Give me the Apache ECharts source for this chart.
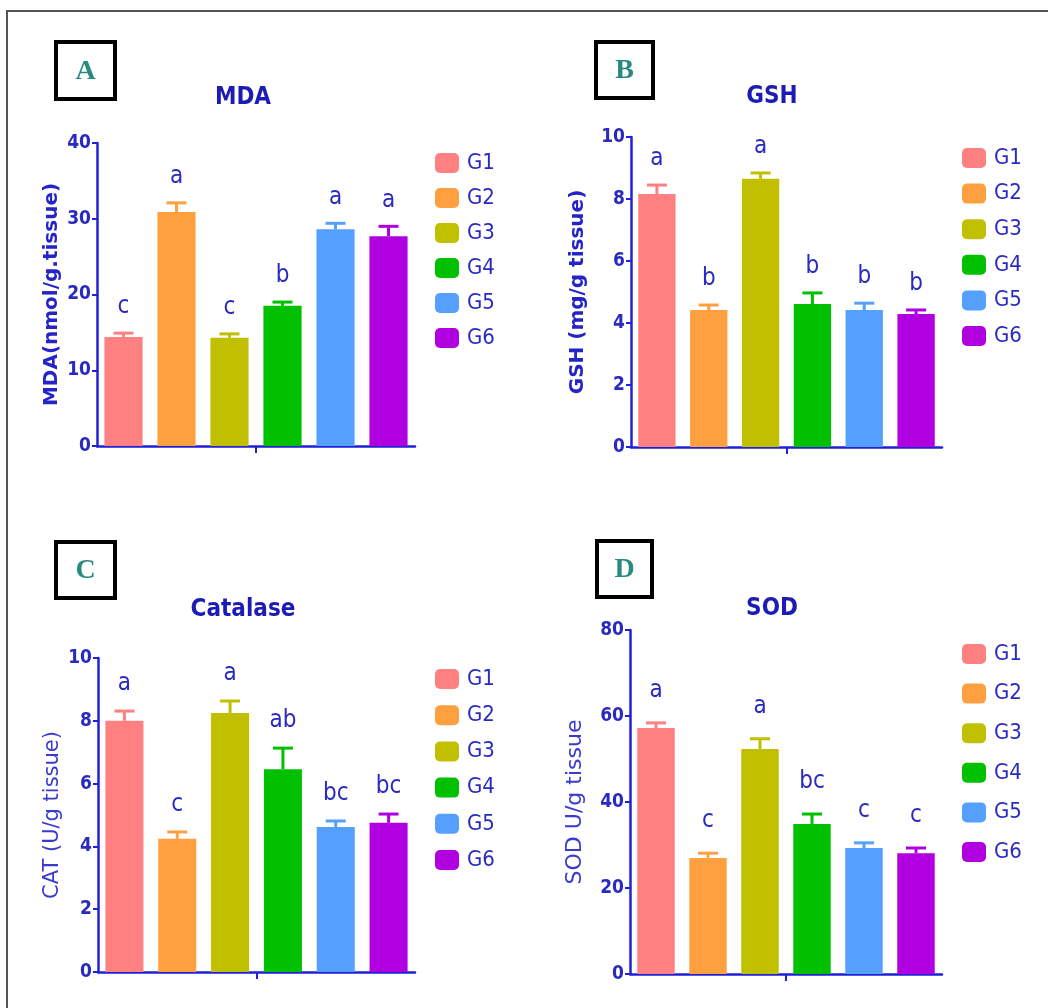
<!DOCTYPE html>
<html>
<head>
<meta charset="utf-8">
<script src="https://cdn.jsdelivr.net/npm/echarts@6/dist/echarts.min.js"></script>
<style>
html,body{margin:0;padding:0;background:#fff;}
#chart{width:1048px;height:1008px;}
</style>
</head>
<body>
<div id="chart"></div>
<script>
// ---------- data ----------
var groups = ['G1', 'G2', 'G3', 'G4', 'G5', 'G6'];
var colors = ['#ff8080', '#ffa040', '#c0c000', '#00c000', '#55a0ff', '#b000e0'];

var mdaValues = [14.4, 30.9, 14.3, 18.5, 28.6, 27.7];
var mdaErrors = [0.5, 1.2, 0.5, 0.5, 0.8, 1.3];
var mdaLetters = ['c', 'a', 'c', 'b', 'a', 'a'];

var gshValues = [8.16, 4.42, 8.65, 4.61, 4.42, 4.29];
var gshErrors = [0.29, 0.16, 0.19, 0.36, 0.22, 0.13];
var gshLetters = ['a', 'b', 'a', 'b', 'b', 'b'];

var catValues = [8.0, 4.24, 8.25, 6.46, 4.62, 4.75];
var catErrors = [0.31, 0.22, 0.38, 0.67, 0.19, 0.28];
var catLetters = ['a', 'c', 'a', 'ab', 'bc', 'bc'];

var sodValues = [57.2, 27.0, 52.3, 34.9, 29.3, 28.1];
var sodErrors = [1.2, 1.1, 2.4, 2.3, 1.2, 1.2];
var sodLetters = ['a', 'c', 'a', 'bc', 'c', 'c'];

var yMax = [40, 10, 10, 80];
var yInterval = [10, 2, 2, 20];
var titles = ['MDA', 'GSH', 'Catalase', 'SOD'];
var panelLetters = ['A', 'B', 'C', 'D'];
var yNames = ['MDA(nmol/g.tissue)', 'GSH (mg/g tissue)', 'CAT (U/g tissue)', 'SOD U/g tissue'];

// ---------- layout / style ----------
var NARROW = "'Liberation Sans Narrow','Arial Narrow','DejaVu Sans Condensed',sans-serif";
var BLUE = '#2020d8';
var TXT = '#2a2ac0';

var panels = [
  {values: mdaValues, errors: mdaErrors, letters: mdaLetters,
   grid: {left: 97, top: 143, width: 318, height: 303},
   legend: {left: 435, top: 152, itemGap: 13},
   title: [243, 98], box: [54, 40, 63, 61], nameGap: 35, nameBold: true, nameSize: 20, letterOff: 26},
  {values: gshValues, errors: gshErrors, letters: gshLetters,
   grid: {left: 631, top: 137, width: 311, height: 310},
   legend: {left: 962, top: 147, itemGap: 13.6},
   title: [772, 97], box: [594, 40, 61, 60], nameGap: 43, nameBold: true, nameSize: 20, letterOff: 26},
  {values: catValues, errors: catErrors, letters: catLetters,
   grid: {left: 98, top: 658, width: 317, height: 314},
   legend: {left: 435, top: 668, itemGap: 14.2},
   title: [243, 610], box: [54, 540, 63, 60], nameGap: 35, nameBold: false, nameSize: 21, letterOff: 27},
  {values: sodValues, errors: sodErrors, letters: sodLetters,
   grid: {left: 630, top: 630, width: 312, height: 344},
   legend: {left: 962, top: 643, itemGap: 17.6},
   title: [772, 609], box: [595, 539, 59, 60], nameGap: 44, nameBold: false, nameSize: 22, letterOff: 32}
];

var grids = [], xAxes = [], yAxes = [], series = [], legends = [], graphics = [];

panels.forEach(function (p, pi) {
  grids.push(Object.assign({containLabel: false}, p.grid));
  // main category axis (6 groups)
  xAxes.push({
    type: 'category', gridIndex: pi, data: groups,
    axisLine: {show: true, lineStyle: {color: BLUE, width: 2.5}},
    axisTick: {show: false}, axisLabel: {show: false}, splitLine: {show: false}
  });
  // single centred tick
  xAxes.push({
    type: 'category', gridIndex: pi, data: [''], position: 'bottom',
    axisLine: {show: false},
    axisTick: {show: true, alignWithLabel: true, length: 7, lineStyle: {color: BLUE, width: 2}},
    axisLabel: {show: false}, splitLine: {show: false}
  });
  yAxes.push({
    type: 'value', gridIndex: pi, min: 0, max: yMax[pi], interval: yInterval[pi],
    name: yNames[pi], nameLocation: 'middle', nameRotate: 90, nameGap: p.nameGap,
    nameTextStyle: {
      fontFamily: "'DejaVu Sans',sans-serif",
      fontWeight: p.nameBold ? 'bold' : 'normal',
      fontSize: p.nameSize,
      color: p.nameBold ? '#2424c8' : '#3a3ad0'
    },
    axisLine: {show: true, lineStyle: {color: BLUE, width: 2.5}},
    axisTick: {show: true, length: 5, lineStyle: {color: BLUE, width: 2}},
    axisLabel: {margin: 6, fontFamily: NARROW, fontWeight: 'bold', fontSize: 19, color: TXT},
    splitLine: {show: false}
  });
  var xi = pi * 2;
  groups.forEach(function (g, gi) {
    var d = groups.map(function (_, k) { return k === gi ? p.values[k] : null; });
    series.push({
      type: 'bar', name: g, xAxisIndex: xi, yAxisIndex: pi,
      data: d, barGap: '-100%', barCategoryGap: '28%',
      itemStyle: {color: colors[gi]},
      emphasis: {disabled: true}, z: 2
    });
  });
  // error bars + significance letters
  var errData = p.values.map(function (v, k) { return [k, v, v + p.errors[k]]; });
  series.push({
    type: 'custom', xAxisIndex: xi, yAxisIndex: pi, z: 3,
    data: errData,
    renderItem: function (params, api) {
      var k = api.value(0);
      var base = api.coord([k, api.value(1)]);
      var top = api.coord([k, api.value(2)]);
      var capHalf = 10;
      var col = colors[k];
      return {
        type: 'group',
        children: [
          {type: 'line', shape: {x1: base[0], y1: base[1], x2: top[0], y2: top[1]},
           style: {stroke: col, lineWidth: 3}},
          {type: 'line', shape: {x1: top[0] - capHalf, y1: top[1], x2: top[0] + capHalf, y2: top[1]},
           style: {stroke: col, lineWidth: 3}},
          {type: 'text', x: top[0], y: top[1] - p.letterOff,
           style: {text: p.letters[k], textAlign: 'center', textVerticalAlign: 'middle',
                   font: '24px ' + NARROW, fill: TXT}}
        ]
      };
    }
  });
  legends.push({
    data: groups, orient: 'vertical', left: p.legend.left, top: p.legend.top,
    padding: 0,
    itemWidth: 24, itemHeight: 20, itemGap: p.legend.itemGap, icon: 'roundRect',
    selectedMode: false,
    textStyle: {fontFamily: NARROW, fontSize: 22, color: TXT, padding: [0, 0, 0, 3]}
  });
  // title
  graphics.push({
    type: 'text', x: p.title[0], y: p.title[1],
    style: {text: titles[pi], textAlign: 'center', textVerticalAlign: 'middle',
            font: 'bold 24px ' + NARROW, fill: '#1c1cb4'}
  });
  // panel letter box
  var b = p.box;
  graphics.push({
    type: 'rect', shape: {x: b[0] + 2, y: b[1] + 2, width: b[2] - 4, height: b[3] - 4},
    style: {fill: '#fff', stroke: '#000', lineWidth: 4}
  });
  graphics.push({
    type: 'text', x: b[0] + b[2] / 2, y: b[1] + b[3] / 2 + 1,
    style: {text: panelLetters[pi], textAlign: 'center', textVerticalAlign: 'middle',
            font: "bold 28px 'Liberation Serif','DejaVu Serif',serif", fill: '#2a8a80'}
  });
});

// outer frame (left and top edges visible)
graphics.push({type: 'line', shape: {x1: 7, y1: 11, x2: 1048, y2: 11}, style: {stroke: '#555', lineWidth: 2}});
graphics.push({type: 'line', shape: {x1: 7, y1: 10, x2: 7, y2: 1008}, style: {stroke: '#555', lineWidth: 2}});

var chart = echarts.init(document.getElementById('chart'), null, {renderer: 'canvas'});
chart.setOption({
  animation: false,
  backgroundColor: '#fff',
  grid: grids, xAxis: xAxes, yAxis: yAxes,
  legend: legends, series: series, graphic: graphics
});
</script>
</body>
</html>
